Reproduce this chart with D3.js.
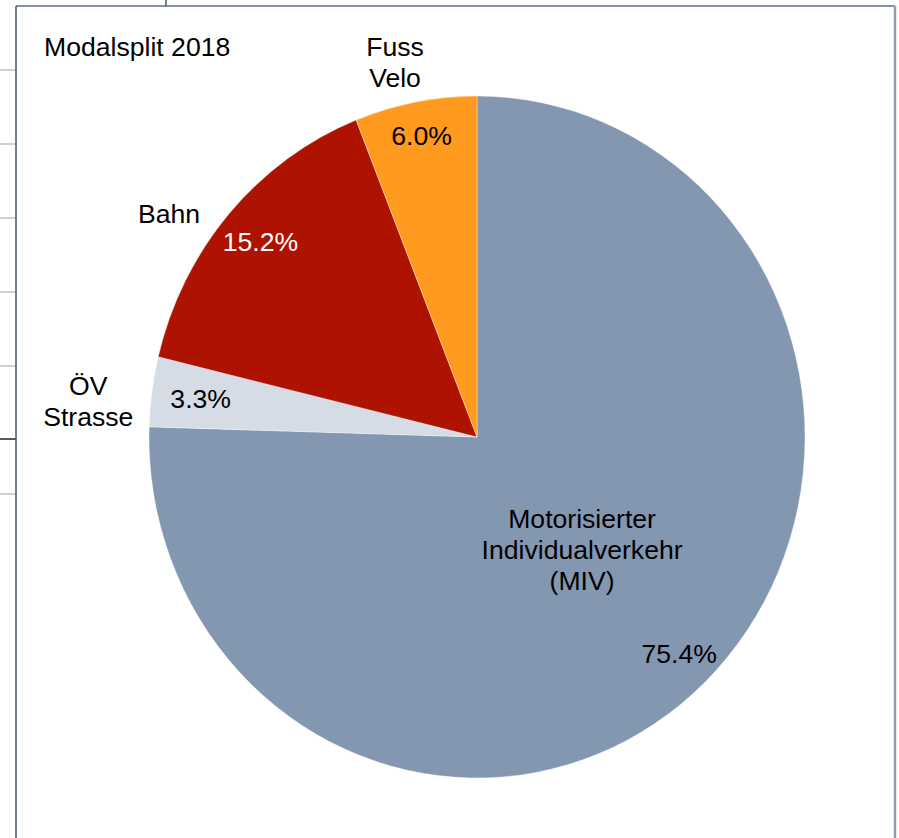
<!DOCTYPE html>
<html>
<head>
<meta charset="utf-8">
<script src="https://cdn.jsdelivr.net/npm/d3@7"></script>
<style>
  html, body { margin: 0; padding: 0; background: #ffffff; }
  svg { display: block; }
  text { font-family: "Liberation Sans", Arial, Helvetica, sans-serif; }
</style>
</head>
<body>
<svg id="chart" width="899" height="838"></svg>
<script>
// ---- data ----
const title = "Modalsplit 2018";
const categories = ["Motorisierter Individualverkehr (MIV)", "ÖV Strasse", "Bahn", "Fuss Velo"];
const nameLines = [["Motorisierter", "Individualverkehr", "(MIV)"], ["ÖV", "Strasse"], ["Bahn"], ["Fuss", "Velo"]];
const values = [75.4, 3.3, 15.2, 6.0];
const valueLabels = ["75.4%", "3.3%", "15.2%", "6.0%"];

// ---- style / layout (not data) ----
const colors = ["#8497B0", "#D6DCE5", "#AE1200", "#FF9A1F"];
const pctColors = ["#000000", "#000000", "#ffffff", "#000000"];
const nameRadius = [0.46, 1.19, 1.145, 1.127];      // fraction of radius for category label
const nameAngleShift = [0, -2.5, -6.1, -2.0];       // degrees relative to slice mid-angle
const pctRadius = [0.885, 0.85, 0.875, 0.90];

const W = 899, H = 838;
const cx = 477, cy = 437, rx = 328, ry = 341;
const fontSize = 26.6, lineH = 31;

const svg = d3.select("#chart");

// ---- frame (chart area border) ----
const frame = svg.append("g");
const stubY = [70, 144, 218, 292, 366, 494];
frame.selectAll("line.stub").data(stubY).enter().append("line")
  .attr("x1", 0).attr("x2", 16).attr("y1", d => d).attr("y2", d => d)
  .attr("stroke", "#bfbfbf").attr("stroke-width", 1.5);
frame.append("line").attr("x1", 0).attr("x2", 16).attr("y1", 439).attr("y2", 439)
  .attr("stroke", "#222").attr("stroke-width", 1.5);
frame.append("line").attr("x1", 166).attr("x2", 166).attr("y1", 0).attr("y2", 6)
  .attr("stroke", "#44546A").attr("stroke-width", 1.5);
frame.append("line").attr("x1", 16).attr("x2", 16).attr("y1", 6).attr("y2", H)
  .attr("stroke", "#44546A").attr("stroke-width", 1.5);
frame.append("line").attr("x1", 16).attr("x2", 895).attr("y1", 6).attr("y2", 6)
  .attr("stroke", "#5B6B85").attr("stroke-width", 1.5);
frame.append("line").attr("x1", 895).attr("x2", 895).attr("y1", 6).attr("y2", H)
  .attr("stroke", "#8E9BB0").attr("stroke-width", 2.5);

// ---- title ----
svg.append("text")
  .attr("x", 44).attr("y", 56)
  .attr("font-size", fontSize)
  .attr("fill", "#000")
  .text(title);

// ---- pie ----
const pie = d3.pie().sort(null).value(d => d)
  .startAngle(0).endAngle(2 * Math.PI);
const arcs = pie(values);
const arc = d3.arc().innerRadius(0).outerRadius(rx);

const pieG = svg.append("g")
  .attr("transform", `translate(${cx},${cy}) scale(1,${ry / rx})`);
pieG.selectAll("path").data(arcs).enter().append("path")
  .attr("d", arc)
  .attr("fill", (d, i) => colors[i])
  .attr("stroke", "#ffffff")
  .attr("stroke-width", 0.6)
  .attr("stroke-opacity", 0.6);

function pos(a, f) {
  return [cx + rx * f * Math.sin(a), cy - ry * f * Math.cos(a)];
}

// ---- percentage labels ----
svg.append("g").selectAll("text").data(arcs).enter().append("text")
  .attr("transform", (d, i) => {
    const p = pos((d.startAngle + d.endAngle) / 2, pctRadius[i]);
    return `translate(${p[0]},${p[1]})`;
  })
  .attr("text-anchor", "middle")
  .attr("dy", "0.36em")
  .attr("font-size", fontSize)
  .attr("fill", (d, i) => pctColors[i])
  .text((d, i) => valueLabels[i]);

// ---- category labels ----
const nameG = svg.append("g");
arcs.forEach((d, i) => {
  const a = (d.startAngle + d.endAngle) / 2 + nameAngleShift[i] * Math.PI / 180;
  const p = pos(a, nameRadius[i]);
  const lines = nameLines[i];
  const t = nameG.append("text")
    .attr("text-anchor", "middle")
    .attr("font-size", fontSize)
    .attr("fill", "#000");
  lines.forEach((ln, k) => {
    t.append("tspan")
      .attr("x", p[0])
      .attr("y", p[1] + (k - (lines.length - 1) / 2) * lineH + 0.36 * fontSize)
      .text(ln);
  });
});
</script>
</body>
</html>
